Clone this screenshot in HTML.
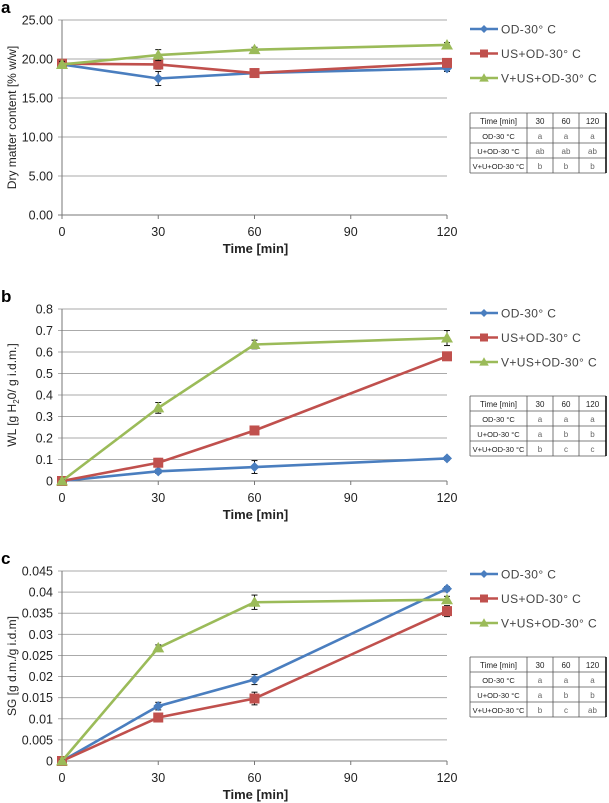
<!DOCTYPE html>
<html><head><meta charset="utf-8"><style>
body{margin:0;background:#fff;font-family:"Liberation Sans",sans-serif}
svg{display:block}
</style></head><body>
<svg id="fig" width="609" height="803" xmlns="http://www.w3.org/2000/svg" font-family="Liberation Sans, sans-serif"></svg>
<script>
const xCats=[0,30,60,120];
const xTicks=[0,30,60,90,120];
const seriesNames=["OD-30° C","US+OD-30° C","V+US+OD-30° C"];
const aOD=[19.3,17.5,18.2,18.8], aUS=[19.4,19.3,18.2,19.5], aV=[19.3,20.5,21.2,21.8];
const aErr=[[0.5,0.9,0.3,0.4],[0.5,0.6,0.3,0.5],[0.4,0.7,0.3,0.3]];
const bOD=[0,0.045,0.065,0.105], bUS=[0,0.085,0.235,0.58], bV=[0,0.34,0.635,0.665];
const bErr=[[0.005,0.01,0.03,0.008],[0.005,0.02,0.015,0.01],[0.005,0.025,0.02,0.035]];
const cOD=[0,0.013,0.0193,0.0408], cUS=[0,0.0103,0.0148,0.0355], cV=[0,0.0268,0.0376,0.0382];
const cErr=[[0.0003,0.0009,0.0012,0.0005],[0.0003,0.0005,0.0015,0.0013],[0.0003,0.0007,0.0017,0.0008]];
const aTicks=["0.00","5.00","10.00","15.00","20.00","25.00"];
const bTicks=["0","0.1","0.2","0.3","0.4","0.5","0.6","0.7","0.8"];
const cTicks=["0","0.005","0.01","0.015","0.02","0.025","0.03","0.035","0.04","0.045"];
const tabA=[["a","a","a"],["ab","ab","ab"],["b","b","b"]];
const tabB=[["a","a","a"],["a","b","b"],["b","c","c"]];
const tabC=[["a","a","a"],["a","b","b"],["b","c","ab"]];
const rowNames=["OD-30 °C","U+OD-30 °C","V+U+OD-30 °C"];
const colNames=["Time [min]","30","60","120"];
const colors=["#4a7ebf","#c0504d","#9bbb59"];
const svg=document.getElementById('fig');
const NS="http://www.w3.org/2000/svg";
function el(t,a,p){const e=document.createElementNS(NS,t);for(const k in a)e.setAttribute(k,a[k]);(p||svg).appendChild(e);return e;}
function marker(g,i,x,y,s){
  let m;
  if(i===0)m=el('polygon',{points:`${x},${y-5*s} ${x+5*s},${y} ${x},${y+5*s} ${x-5*s},${y}`,fill:colors[0]},g);
  else if(i===1)m=el('rect',{x:x-5*s,y:y-5*s,width:10*s,height:10*s,fill:colors[1]},g);
  else m=el('polygon',{points:`${x},${y-6*s} ${x+6*s},${y+4.5*s} ${x-6*s},${y+4.5*s}`,fill:colors[2]},g);
  return m;
}
function panel(o){
  const g=el('g',{});
  
  
  const x0=62,x1=447,ymax=o.ymax;
  const X=v=>x0+(x1-x0)*v/120;
  const Y=v=>o.yb-(o.yb-o.yt)*v/ymax;
  const lab=el('text',{x:1,y:o.yt-7,'font-size':17,'font-weight':'bold',fill:'#000'},g);lab.textContent=o.id;
  
  
  o.ticks.forEach((t,i)=>{
    const v=ymax*i/(o.ticks.length-1);
    const ln=el('line',{x1:x0-4,x2:x1,y1:Y(v),y2:Y(v),stroke:i===0?'#777':'#aaa','stroke-width':1},g);
    
    
    const tx=el('text',{x:53,y:Y(v)+4.5,'font-size':12.5,'text-anchor':'end',fill:'#222'},g);tx.textContent=t;
    
    
  });
  el('line',{x1:x0,x2:x0,y1:o.yt,y2:o.yb+4,stroke:'#777'},g);
  xTicks.forEach(t=>{
    el('line',{x1:X(t),x2:X(t),y1:o.yb,y2:o.yb+4,stroke:'#777'},g);
    const tx=el('text',{x:X(t),y:o.yb+21,'font-size':12.5,'text-anchor':'middle',fill:'#222'},g);tx.textContent=t;
    
    
  });
  const xt=el('text',{x:(x0+x1)/2+1,y:o.yb+38,'font-size':13,'font-weight':'bold','text-anchor':'middle',fill:'#222'},g);xt.textContent='Time [min]';
  
  
  const yt=el('text',{transform:`translate(16,${(o.yt+o.yb)/2}) rotate(-90)`,'font-size':12,'text-anchor':'middle',fill:'#222'},g);yt.innerHTML=o.ylabel;
  
  
  o.series.forEach((s,i)=>{
    const pts=s.map((v,j)=>X(xCats[j])+','+Y(v)).join(' ');
    const pl=el('polyline',{points:pts,fill:'none',stroke:colors[i],'stroke-width':2.6},g);
    
    
    s.forEach((v,j)=>{
      const e=o.err[i][j],cx=X(xCats[j]);
      el('line',{x1:cx,x2:cx,y1:Y(v-e),y2:Y(v+e),stroke:'#111','stroke-width':1},g);
      el('line',{x1:cx-3,x2:cx+3,y1:Y(v-e),y2:Y(v-e),stroke:'#111'},g);
      el('line',{x1:cx-3,x2:cx+3,y1:Y(v+e),y2:Y(v+e),stroke:'#111'},g);
      const m=marker(g,i,cx,Y(v),1);
      
      
    });
  });
  // legend
  seriesNames.forEach((n,i)=>{
    const ly=o.ly+i*24.5;
    const lg=el('g',{},g);
    
    
    el('line',{x1:470,x2:498,y1:ly,y2:ly,stroke:colors[i],'stroke-width':2.6},lg);
    marker(lg,i,484,ly,0.8);
    const t=el('text',{x:501,y:ly+4.5,'font-size':12,fill:'#444','letter-spacing':'0.4'},lg);t.textContent=n;
  });
  // table
  const tg=el('g',{},g);
  
  
  const tx0=470,cw=[57,26,26,27],rh=15,ty=o.ty;
  const cx=[tx0];cw.forEach(w=>cx.push(cx[cx.length-1]+w));
  for(let r=0;r<=4;r++)el('line',{x1:tx0,x2:cx[4],y1:ty+r*rh,y2:ty+r*rh,stroke:'#555','stroke-width':0.8},tg);
  cx.forEach((x,k)=>el('line',{x1:x,x2:x,y1:ty,y2:ty+4*rh,stroke:k===4?'#000':'#555','stroke-width':k===4?1.5:0.8},tg));
  colNames.forEach((c,k)=>{const t=el('text',{x:(cx[k]+cx[k+1])/2,y:ty+11,'font-size':8,'text-anchor':'middle',fill:'#222'},tg);t.textContent=c;});
  rowNames.forEach((rn,r)=>{
    const t=el('text',{x:(cx[0]+cx[1])/2,y:ty+(r+1)*rh+11,'font-size':7.5,'text-anchor':'middle',fill:'#222'},tg);t.textContent=rn;
    o.tab[r].forEach((v,k)=>{const tt=el('text',{x:(cx[k+1]+cx[k+2])/2,y:ty+(r+1)*rh+11,'font-size':8,'text-anchor':'middle',fill:'#666'},tg);tt.textContent=v;});
  });
}
panel({id:'a',yt:20,yb:215,ymax:25,ticks:aTicks,series:[aOD,aUS,aV],err:aErr,ylabel:'Dry matter content [% w/w]',ly:29,ty:113,tab:tabA});
panel({id:'b',yt:309,yb:481,ymax:0.8,ticks:bTicks,series:[bOD,bUS,bV],err:bErr,ylabel:'WL [g H<tspan font-size="8" dy="3">2</tspan><tspan dy="-3">0/ g i.d.m.]</tspan>',ly:313,ty:396,tab:tabB});
panel({id:'c',yt:571,yb:761,ymax:0.045,ticks:cTicks,series:[cOD,cUS,cV],err:cErr,ylabel:'SG [g d.m./g i.d.m]',ly:574,ty:657,tab:tabC});
</script>
</body></html>
